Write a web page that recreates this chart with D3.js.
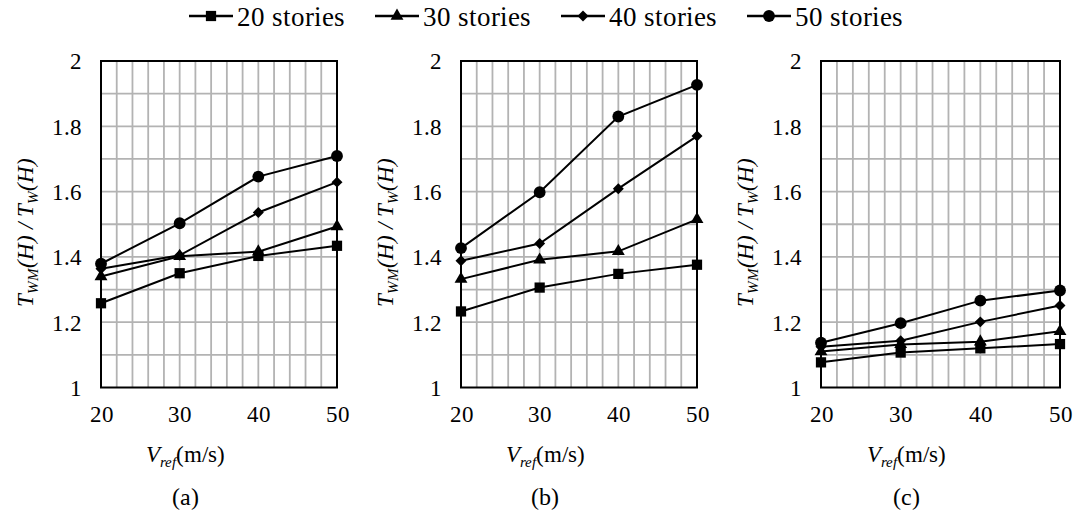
<!DOCTYPE html>
<html><head><meta charset="utf-8">
<script src="https://cdn.jsdelivr.net/npm/d3@7"></script>
<style>
@font-face { font-family: "ChartSerif"; font-style: normal; font-weight: 400; src: local("Liberation Serif"), local("LiberationSerif"), local("Times New Roman"), local("Tinos"); }
@font-face { font-family: "ChartSerif"; font-style: italic; font-weight: 400; src: local("Liberation Serif Italic"), local("LiberationSerif-Italic"), local("Times New Roman Italic"), local("Tinos Italic"); }
body { margin: 0; background: #fff; }
svg { display: block; }
svg text { font-family: "ChartSerif", "Liberation Serif", "Times New Roman", Tinos, serif; }
</style>
</head><body><svg id="chart" width="1073" height="520"></svg>
<script>
const xValues = [20, 30, 40, 50];
const seriesNames = ["20 stories", "30 stories", "40 stories", "50 stories"];
const panelLabels = ["(a)", "(b)", "(c)"];
const yTicks = [1, 1.2, 1.4, 1.6, 1.8, 2];
const xTicks = [20, 30, 40, 50];

const a20 = [1.258, 1.350, 1.403, 1.434];
const a30 = [1.340, 1.402, 1.416, 1.493];
const a40 = [1.364, 1.405, 1.536, 1.629];
const a50 = [1.379, 1.503, 1.646, 1.709];

const b20 = [1.233, 1.306, 1.348, 1.376];
const b30 = [1.332, 1.391, 1.417, 1.515];
const b40 = [1.388, 1.441, 1.609, 1.770];
const b50 = [1.427, 1.598, 1.830, 1.927];

const c20 = [1.077, 1.107, 1.120, 1.133];
const c30 = [1.110, 1.132, 1.140, 1.172];
const c40 = [1.125, 1.143, 1.201, 1.251];
const c50 = [1.137, 1.197, 1.266, 1.297];

const panelData = [[a20, a30, a40, a50], [b20, b30, b40, b50], [c20, c30, c40, c50]];

const svg = d3.select("#chart");
const panels = [{x0: 101, x1: 337}, {x0: 461, x1: 697}, {x0: 821, x1: 1060}];
const yTop = 61, yBot = 387.5;

const markerTypes = ["square", "triangle", "diamond", "circle"];
function markerPath(t) {
  if (t === "square") return d3.symbol(d3.symbolSquare, 105)();
  if (t === "triangle") return d3.symbol(d3.symbolTriangle, 72)();
  if (t === "diamond") return d3.symbol(d3.symbolSquare, 60)();
  return d3.symbol(d3.symbolCircle, 110)();
}
function markerTransform(t, x, y) {
  return t === "diamond" ? `translate(${x},${y}) rotate(45)` : `translate(${x},${y})`;
}

panels.forEach((p, pi) => {
  const x = d3.scaleLinear().domain([20, 50]).range([p.x0, p.x1]);
  const y = d3.scaleLinear().domain([1, 2]).range([yBot, yTop]);
  const g = svg.append("g");

  const grid = g.append("g").attr("stroke", "#b3b3b3").attr("stroke-width", 1.8);
  d3.range(22, 50, 2).forEach(v => grid.append("line").attr("x1", x(v)).attr("x2", x(v)).attr("y1", yTop).attr("y2", yBot));
  d3.range(1.1, 2.0, 0.1).forEach(v => grid.append("line").attr("x1", p.x0).attr("x2", p.x1).attr("y1", y(v)).attr("y2", y(v)));

  g.append("rect").attr("x", p.x0).attr("y", yTop).attr("width", p.x1 - p.x0).attr("height", yBot - yTop)
    .attr("fill", "none").attr("stroke", "#000").attr("stroke-width", 2);

  const yAxis = d3.axisLeft(y).tickValues(yTicks).tickSize(0).tickPadding(19).tickFormat(d3.format("~g"));
  const ya = g.append("g").attr("transform", `translate(${p.x0},0)`).call(yAxis);
  ya.attr("font-family", null).attr("font-size", 23);
  ya.select(".domain").remove();
  ya.selectAll("text").attr("fill", "#000").attr("dy", "0.34em");

  const xAxis = d3.axisBottom(x).tickValues(xTicks).tickSize(0).tickPadding(18);
  const xa = g.append("g").attr("transform", `translate(0,${yBot})`).call(xAxis);
  xa.attr("font-family", null).attr("font-size", 23);
  xa.select(".domain").remove();
  xa.selectAll("text").attr("fill", "#000");

  const ty = g.append("text").attr("font-size", 23).attr("transform", `translate(${p.x0 - 76},${(yTop + yBot) / 2 + 8}) rotate(-90)`)
    .attr("text-anchor", "middle").attr("font-style", "italic").attr("dy", "0.35em");
  ty.append("tspan").text("T");
  ty.append("tspan").attr("font-size", 15).attr("dy", 5).text("WM");
  ty.append("tspan").attr("dy", -5).text("(H) / T");
  ty.append("tspan").attr("font-size", 15).attr("dy", 5).text("W");
  ty.append("tspan").attr("dy", -5).text("(H)");

  const cx = (p.x0 + p.x1) / 2 - 34;
  const tx = g.append("text").attr("font-size", 23).attr("x", cx).attr("y", 462).attr("text-anchor", "middle");
  tx.append("tspan").attr("font-style", "italic").text("V");
  tx.append("tspan").attr("font-style", "italic").attr("font-size", 15).attr("dy", 5).text("ref");
  tx.append("tspan").attr("dy", -5).text("(m/s)");

  g.append("text").attr("font-size", 24).attr("x", cx).attr("y", 505).attr("text-anchor", "middle").text(panelLabels[pi]);

  const line = d3.line().x((d, i) => x(xValues[i])).y(d => y(d));
  panelData[pi].forEach((vals, si) => {
    g.append("path").attr("d", line(vals)).attr("fill", "none").attr("stroke", "#000").attr("stroke-width", 2);
    vals.forEach((v, i) => {
      g.append("path").attr("d", markerPath(markerTypes[si]))
        .attr("transform", markerTransform(markerTypes[si], x(xValues[i]), y(v))).attr("fill", "#000");
    });
  });
});

const legendX = [211, 397, 583, 769];
const legY = 16;
seriesNames.forEach((name, i) => {
  const mx = legendX[i];
  svg.append("line").attr("x1", mx - 22).attr("x2", mx + 22).attr("y1", legY).attr("y2", legY)
    .attr("stroke", "#000").attr("stroke-width", 2.5);
  svg.append("path").attr("d", markerPath(markerTypes[i])).attr("transform", markerTransform(markerTypes[i], mx, legY)).attr("fill", "#000");
  svg.append("text").attr("font-size", 27).attr("x", mx + 26).attr("y", 26).text(name);
});
</script></body></html>
